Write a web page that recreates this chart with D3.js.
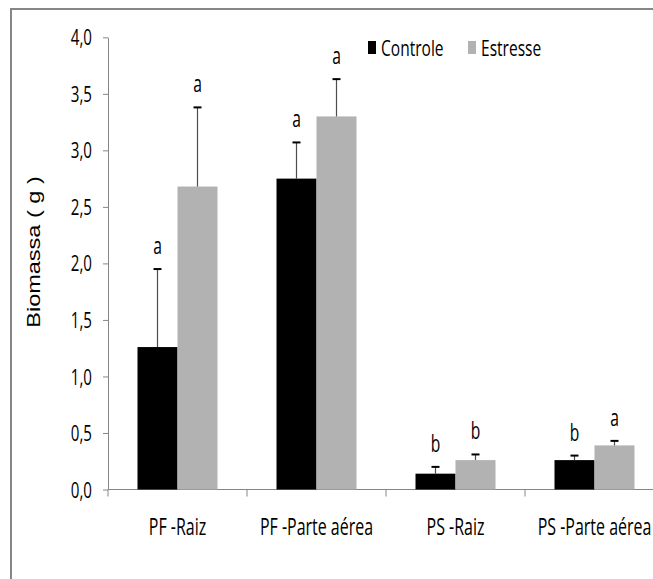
<!DOCTYPE html>
<html>
<head>
<meta charset="utf-8">
<script src="https://cdn.jsdelivr.net/npm/d3@7"></script>
<style>
  html, body { margin: 0; padding: 0; background: #fff; }
  svg { display: block; }
  text { fill: #000; }
</style>
</head>
<body>
<svg id="chart" width="653" height="579"></svg>
<script>
// Biomassa (g) por órgão, controle vs. estresse
const categories = ["PF -Raiz", "PF -Parte aérea", "PS -Raiz", "PS -Parte aérea"];
const seriesNames = ["Controle", "Estresse"];
const controle = [1.26, 2.75, 0.14, 0.26];
const estresse = [2.68, 3.30, 0.26, 0.39];
const erroControle = [0.69, 0.32, 0.06, 0.04];
const erroEstresse = [0.70, 0.33, 0.05, 0.04];
const letrasControle = ["a", "a", "b", "b"];
const letrasEstresse = ["a", "a", "b", "a"];
const yTicks = [0, 0.5, 1.0, 1.5, 2.0, 2.5, 3.0, 3.5, 4.0];

const colors = ["#000000", "#b2b2b2"];
const condensed = "'Open Sans', sans-serif";

const svg = d3.select("#chart");

// outer frame
svg.append("rect")
  .attr("x", 11).attr("y", 9)
  .attr("width", 700).attr("height", 640)
  .attr("fill", "none").attr("stroke", "#868686").attr("stroke-width", 2);

const plotLeft = 108, plotTop = 37.3, plotBottom = 489.5, bandW = 139;
const x = d3.scaleBand().domain(categories).range([plotLeft, plotLeft + bandW * categories.length]).paddingInner(0).paddingOuter(0);
const inner = d3.scaleBand().domain(seriesNames).range([29.5, bandW - 29.5]);
const y = d3.scaleLinear().domain([0, 4]).range([plotBottom, plotTop]);

const axisColor = "#868686";
const fmt = d => d3.format(".1f")(d).replace(".", ",");

// y axis
const yAxis = svg.append("g").attr("transform", `translate(${plotLeft},0)`)
  .call(d3.axisLeft(y).tickValues(yTicks).tickSize(5).tickSizeOuter(0).tickFormat(fmt));
yAxis.select(".domain").attr("stroke", axisColor);
yAxis.selectAll(".tick line").attr("stroke", axisColor);
yAxis.selectAll(".tick text").remove();
yAxis.selectAll(".tick").append("g")
  .attr("transform", "translate(-16,0) scale(0.72,1)")
  .append("text")
  .attr("text-anchor", "end").attr("dy", "0.36em")
  .style("font-family", condensed).style("font-size", "21px")
  .text(d => fmt(d));

// x axis line with category boundary ticks
const xEdges = categories.map(c => x(c)).concat([x(categories[categories.length - 1]) + bandW]);
svg.append("line")
  .attr("x1", plotLeft).attr("x2", plotLeft + bandW * categories.length)
  .attr("y1", plotBottom).attr("y2", plotBottom)
  .attr("stroke", axisColor);
svg.selectAll(".xedge").data(xEdges).join("line")
  .attr("class", "xedge")
  .attr("x1", d => d).attr("x2", d => d)
  .attr("y1", plotBottom).attr("y2", plotBottom + 7)
  .attr("stroke", axisColor);

// category labels
svg.selectAll(".cat").data(categories).join("g")
  .attr("class", "cat")
  .attr("transform", d => `translate(${x(d) + bandW / 2},${535}) scale(0.68,1)`)
  .append("text")
  .attr("text-anchor", "middle")
  .style("font-family", condensed).style("font-size", "23.5px")
  .text(d => d);

// bars
const rows = [];
categories.forEach((c, i) => {
  rows.push({ cat: c, s: 0, v: controle[i], e: erroControle[i], l: letrasControle[i] });
  rows.push({ cat: c, s: 1, v: estresse[i], e: erroEstresse[i], l: letrasEstresse[i] });
});
const bx = d => x(d.cat) + inner(seriesNames[d.s]);
const bw = inner.bandwidth();

svg.selectAll(".bar").data(rows).join("rect")
  .attr("class", "bar")
  .attr("x", bx).attr("width", bw)
  .attr("y", d => y(d.v)).attr("height", d => y(0) - y(d.v))
  .attr("fill", d => colors[d.s]);

// error bars (upper half only)
svg.selectAll(".err").data(rows).join("line")
  .attr("class", "err")
  .attr("x1", d => bx(d) + bw / 2).attr("x2", d => bx(d) + bw / 2)
  .attr("y1", d => y(d.v)).attr("y2", d => y(d.v + d.e))
  .attr("stroke", "#4d4d4d").attr("stroke-width", 1.2);
svg.selectAll(".cap").data(rows).join("line")
  .attr("class", "cap")
  .attr("x1", d => bx(d) + bw / 2 - 4).attr("x2", d => bx(d) + bw / 2 + 4)
  .attr("y1", d => y(d.v + d.e)).attr("y2", d => y(d.v + d.e))
  .attr("stroke", "#000").attr("stroke-width", 2);

// significance letters
svg.selectAll(".sig").data(rows).join("g")
  .attr("class", "sig")
  .attr("transform", d => `translate(${bx(d) + bw / 2},${y(d.v + d.e) - 15}) scale(0.68,1)`)
  .append("text")
  .attr("text-anchor", "middle")
  .style("font-family", condensed).style("font-size", "23px")
  .text(d => d.l);

// y axis title
svg.append("g")
  .attr("transform", "translate(40,252) rotate(-90) scale(1.12,0.85)")
  .append("text")
  .attr("text-anchor", "middle")
  .style("font-family", "'Liberation Sans', Arial, sans-serif").style("font-size", "21px")
  .text("Biomassa ( g )");

// legend
const legend = svg.append("g").attr("transform", "translate(368,48)");
const legX = [0, 100];
seriesNames.forEach((s, i) => {
  const g = legend.append("g").attr("transform", `translate(${legX[i]},0)`);
  g.append("rect").attr("x", 0).attr("y", -7).attr("width", 8).attr("height", 13).attr("fill", colors[i]);
  g.append("g").attr("transform", "translate(13,0) scale(0.74,1)")
    .append("text").attr("dy", "0.36em")
    .style("font-family", condensed).style("font-size", "21px")
    .text(s);
});
</script>
</body>
</html>
